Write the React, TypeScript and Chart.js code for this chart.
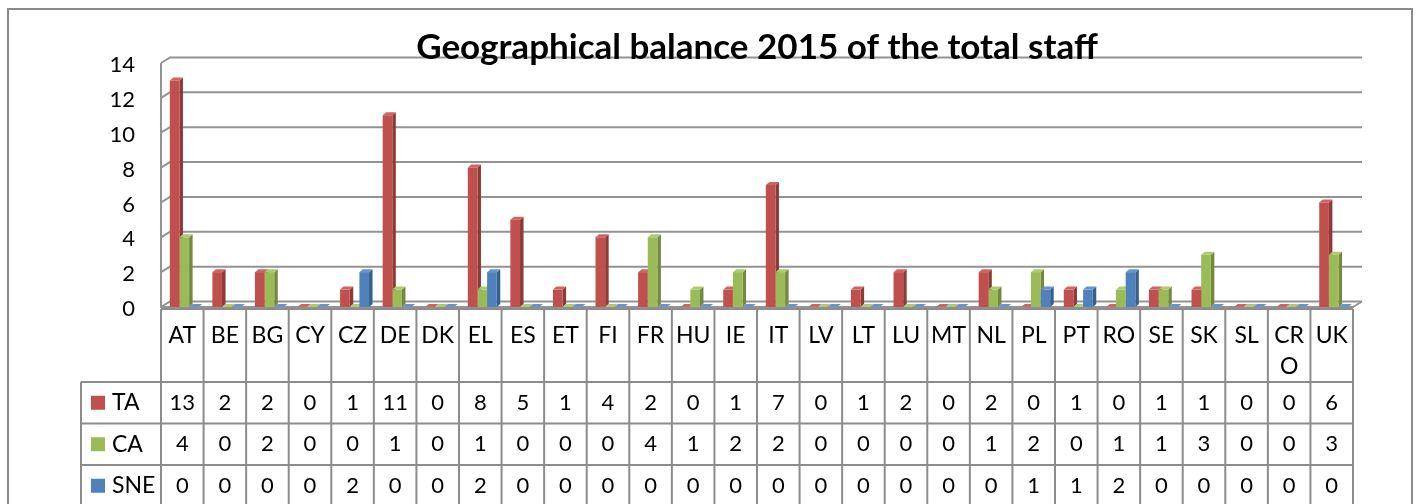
import React, { useEffect, useRef } from "react";
import { Chart, registerables } from "chart.js";

Chart.register(...registerables);

const TITLE = "Geographical balance 2015 of the total staff";
const CATEGORIES = [
  "AT", "BE", "BG", "CY", "CZ", "DE", "DK", "EL", "ES", "ET", "FI", "FR", "HU", "IE",
  "IT", "LV", "LT", "LU", "MT", "NL", "PL", "PT", "RO", "SE", "SK", "SL", "CRO", "UK",
];
const TA = [13, 2, 2, 0, 1, 11, 0, 8, 5, 1, 4, 2, 0, 1, 7, 0, 1, 2, 0, 2, 0, 1, 0, 1, 1, 0, 0, 6];
const CA = [4, 0, 2, 0, 0, 1, 0, 1, 0, 0, 0, 4, 1, 2, 2, 0, 0, 0, 0, 1, 2, 0, 1, 1, 3, 0, 0, 3];
const SNE = [0, 0, 0, 0, 2, 0, 0, 2, 0, 0, 0, 0, 0, 0, 0, 0, 0, 0, 0, 0, 1, 1, 2, 0, 0, 0, 0, 0];
const SERIES_NAMES = ["TA", "CA", "SNE"];
const Y_MIN = 0;
const Y_MAX = 14;
const Y_STEP = 2;

const FRONT = ["#C0504D", "#9BBB59", "#4F81BD"];
const SIDE = ["#8E3A37", "#73893F", "#385E8C"];
const TOP = ["#CD6562", "#AECB72", "#6794CC"];
const GRID = "#939393";
const LINE = "#8C8C8C";
const FONT = "Lato, 'Open Sans', sans-serif";

const WALL_DX = 9;
const WALL_DY = 5.5;
const BAR_DX = 3.5;
const BAR_DY = 3;
const BAR_SHIFT = 2;

function wrapLabel(ctx: CanvasRenderingContext2D, text: string, maxW: number): string[] {
  if (ctx.measureText(text).width <= maxW) return [text];
  const lines: string[] = [];
  let cur = "";
  for (const ch of text) {
    if (cur && ctx.measureText(cur + ch).width > maxW) {
      lines.push(cur);
      cur = ch;
    } else cur += ch;
  }
  if (cur) lines.push(cur);
  return lines;
}

const threeD = {
  id: "threeD",
  beforeDatasetsDraw(chart: any) {
    const { ctx, chartArea: a, scales } = chart;
    const y = scales.y;
    ctx.save();
    ctx.strokeStyle = GRID;
    ctx.lineWidth = 2;
    for (let v = Y_MIN; v <= Y_MAX; v += Y_STEP) {
      const yf = y.getPixelForValue(v);
      ctx.beginPath();
      ctx.moveTo(a.left, yf);
      ctx.lineTo(a.left + WALL_DX, yf - WALL_DY);
      ctx.lineTo(a.right + WALL_DX, yf - WALL_DY);
      ctx.stroke();
    }
    ctx.beginPath();
    ctx.moveTo(a.left, y.getPixelForValue(Y_MAX));
    ctx.lineTo(a.left, a.bottom);
    ctx.lineTo(a.right, a.bottom);
    ctx.lineTo(a.right + WALL_DX, a.bottom - WALL_DY);
    ctx.stroke();
    ctx.restore();

    ctx.save();
    ctx.translate(BAR_SHIFT, 0);
    chart.data.datasets.forEach((_ds: any, di: number) => {
      const meta = chart.getDatasetMeta(di);
      meta.data.forEach((bar: any) => {
        const { x: bx, y: by, base, width } = bar.getProps(["x", "y", "base", "width"], true);
        const l = bx - width / 2;
        const r = bx + width / 2;
        ctx.fillStyle = SIDE[di];
        ctx.beginPath();
        ctx.moveTo(r, by);
        ctx.lineTo(r + BAR_DX, by - BAR_DY);
        ctx.lineTo(r + BAR_DX, base - BAR_DY);
        ctx.lineTo(r, base);
        ctx.closePath();
        ctx.fill();
        ctx.fillStyle = TOP[di];
        ctx.beginPath();
        ctx.moveTo(l, by);
        ctx.lineTo(l + BAR_DX, by - BAR_DY);
        ctx.lineTo(r + BAR_DX, by - BAR_DY);
        ctx.lineTo(r, by);
        ctx.closePath();
        ctx.fill();
      });
    });
  },
  afterDatasetsDraw(chart: any) {
    chart.ctx.restore();
  },
  afterDraw(chart: any) {
    const { ctx, chartArea: a, scales } = chart;
    const x = scales.x;
    const n = CATEGORIES.length;
    const cw = (a.right - a.left) / n;
    const tTop = a.bottom + 2;
    const hBottom = 382;
    const rowH = 41.5;
    const legLeft = 81;
    const rows = [TA, CA, SNE];

    ctx.save();
    ctx.strokeStyle = LINE;
    ctx.lineWidth = 2;
    ctx.beginPath();
    ctx.moveTo(a.left, tTop);
    ctx.lineTo(a.right, tTop);
    for (let r = 0; r <= rows.length; r++) {
      const yy = hBottom + r * rowH;
      ctx.moveTo(legLeft, yy);
      ctx.lineTo(a.right, yy);
    }
    for (let i = 0; i <= n; i++) {
      const xx = i < n ? x.getPixelForValue(i) - cw / 2 : x.getPixelForValue(n - 1) + cw / 2;
      ctx.moveTo(xx, tTop);
      ctx.lineTo(xx, 520);
    }
    ctx.moveTo(legLeft, hBottom);
    ctx.lineTo(legLeft, 520);
    ctx.stroke();

    ctx.fillStyle = "#000";
    ctx.textAlign = "center";
    ctx.textBaseline = "middle";
    CATEGORIES.forEach((c, i) => {
      const cx = x.getPixelForValue(i);
      ctx.font = `23px ${FONT}`;
      const lines = wrapLabel(ctx, c, cw - 4);
      lines.forEach((ln, k) => ctx.fillText(ln, cx, tTop + 27 + k * 31));
      ctx.font = `22px ${FONT}`;
      rows.forEach((vals, r) => {
        ctx.fillText(String(vals[i]), cx, hBottom + r * rowH + rowH / 2);
      });
    });
    ctx.textAlign = "left";
    ctx.font = `23px ${FONT}`;
    SERIES_NAMES.forEach((s, r) => {
      const cy = hBottom + r * rowH + rowH / 2;
      ctx.fillStyle = FRONT[r];
      ctx.fillRect(91, cy - 7, 14, 14);
      ctx.fillStyle = "#000";
      ctx.fillText(s, 112, cy);
    });

    ctx.font = `bold 35px ${FONT}`;
    ctx.textAlign = "center";
    ctx.textBaseline = "alphabetic";
    ctx.fillText(TITLE, 757, 59);

    ctx.strokeStyle = "#8A8A8A";
    ctx.lineWidth = 2;
    ctx.strokeRect(8, 9, 1404, 600);
    ctx.restore();
  },
};

export default function App() {
  const ref = useRef<HTMLCanvasElement | null>(null);
  useEffect(() => {
    if (!ref.current) return;
    const chart = new Chart(ref.current, {
      type: "bar",
      data: {
        labels: CATEGORIES,
        datasets: [
          { label: SERIES_NAMES[0], data: TA, backgroundColor: FRONT[0] },
          { label: SERIES_NAMES[1], data: CA, backgroundColor: FRONT[1] },
          { label: SERIES_NAMES[2], data: SNE, backgroundColor: FRONT[2] },
        ],
      },
      options: {
        responsive: false,
        animation: false,
        devicePixelRatio: 1,
        layout: { padding: { left: 0, right: 63, top: 63, bottom: 197 } },
        datasets: { bar: { categoryPercentage: 0.68, barPercentage: 1 } },
        plugins: { legend: { display: false }, tooltip: { enabled: false }, title: { display: false } },
        scales: {
          x: { display: false },
          y: {
            min: Y_MIN,
            max: Y_MAX,
            ticks: { stepSize: Y_STEP, color: "#000", font: { family: FONT, size: 22 }, padding: 26, labelOffset: 2 },
            grid: { display: false, drawTicks: false },
            border: { display: false },
            afterFit: (s: any) => {
              s.width = 161;
            },
          },
        },
      },
      plugins: [threeD],
    });
    return () => chart.destroy();
  }, []);
  return (
    <div style={{ position: "absolute", left: 0, top: 0, width: 1416, height: 504, background: "#fff" }}>
      <canvas ref={ref} width={1416} height={504} />
    </div>
  );
}
